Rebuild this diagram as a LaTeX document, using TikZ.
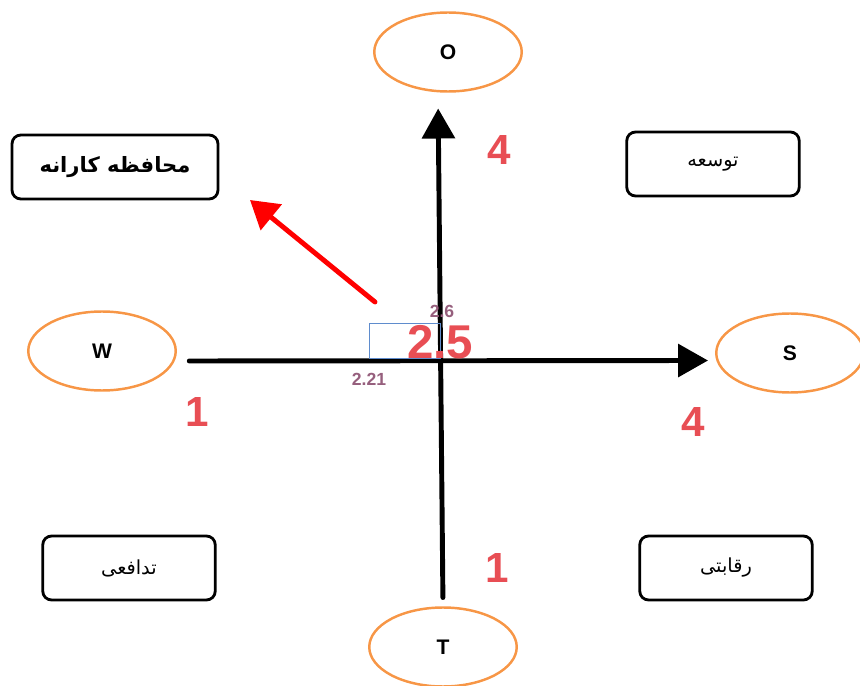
\documentclass[tikz,border=0pt]{standalone}
\usepackage{fontspec}
\setmainfont{Liberation Sans}
\newfontfamily\arabicfont[Script=Arabic]{DejaVu Sans}
\TeXXeTstate=1
\usetikzlibrary{arrows.meta,shapes.geometric,positioning}
\definecolor{ovalorange}{RGB}{247,150,70}
\definecolor{numred}{RGB}{232,78,84}
\definecolor{smallnum}{RGB}{150,95,125}
\definecolor{guideblue}{RGB}{95,140,205}

\begin{document}
\begin{tikzpicture}[x=0.02cm, y=-0.02cm,
    oval/.style={ellipse, draw=ovalorange, line width=1.4pt, minimum width=2.95cm, minimum height=1.58cm, font=\fontsize{12}{14}\selectfont\bfseries},
    strat/.style={rectangle, draw, line width=1.6pt, rounded corners=5pt, minimum width=3.45cm, minimum height=1.28cm, font=\arabicfont\fontsize{11}{13}\selectfont},
    axis/.style={line width=2.8pt, line cap=round, -{Triangle[length=6mm, width=6.5mm]}},
    score/.style={text=numred, font=\fontsize{24}{26}\selectfont\bfseries},
    tick/.style={text=smallnum, font=\fontsize{10}{11}\selectfont\bfseries}
]
    \useasboundingbox (0,0) rectangle (860,686);

    % SWOT ovals
    \node[oval] (O) at (448,52) {O};
    \node[oval] (W) at (102,351) {W};
    \node[oval] (S) at (790,353) {S};
    \node[oval] (T) at (443,647) {T};

    % Strategy boxes
    \node[strat, minimum width=4.12cm, font=\arabicfont\fontsize{12}{14}\selectfont\bfseries] (conserv) at (115,167) {\beginR محافظه کارانه\endR};
    \node[strat] (develop) at (713,164) {\beginR توسعه\endR};
    \node[strat] (defens) at (129,568) {\beginR تدافعی\endR};
    \node[strat] (compet) at (726,568) {\beginR رقابتی\endR};

    % Axes
    \draw[axis, shorten <=5pt, shorten >=9pt] (T.north) -- ([xshift=-0.2cm]O.south);
    \draw[axis, shorten <=7pt, shorten >=4pt] ([yshift=-0.2cm]W.east) -- ([yshift=-0.15cm]S.west);

    % Point of the result
    \draw[guideblue, line width=0.4pt] (369,358) rectangle (440,323);
    \coordinate (res) at (375,302);
    \coordinate (dir) at (250,200);
    \draw[red, line width=2.8pt, line cap=round, -{Triangle[length=5.5mm, width=6.5mm]}] (res) -- (dir);

    % Scores
    \node[score] (sO) at (499,150) {4};
    \node[score] (sW) at (197,412) {1};
    \node[score] (sS) at (693,422) {4};
    \node[score] (sT) at (497,568) {1};
    \node[score, font=\fontsize{27}{30}\selectfont\bfseries] (total) at (440,342) {2.5};
    \node[tick] (yval) at (442,311) {2.6};
    \node[tick] (xval) at (369,379) {2.21};

\end{tikzpicture}
\end{document}
